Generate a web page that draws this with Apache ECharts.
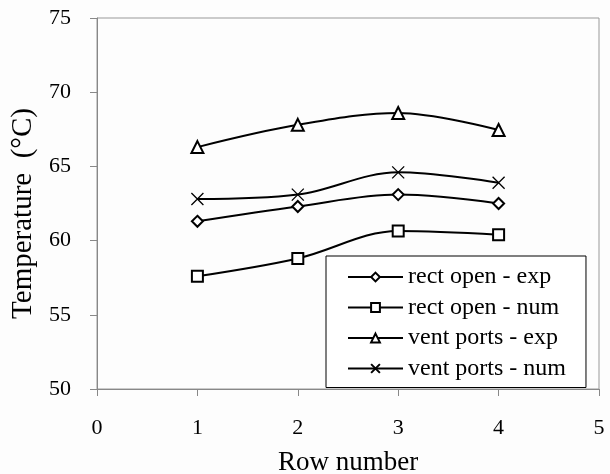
<!DOCTYPE html>
<html><head><meta charset="utf-8">
<script src="https://cdn.jsdelivr.net/npm/echarts@6/dist/echarts.min.js"></script>
<style>html,body{margin:0;padding:0;background:#fff}#c{width:610px;height:474px}</style>
</head><body><div id="c"></div>
<script>
const rows = [1, 2, 3, 4];
const rectOpenExp = [61.3, 62.3, 63.1, 62.5];
const rectOpenNum = [57.6, 58.8, 60.65, 60.4];
const ventPortsExp = [66.3, 67.8, 68.6, 67.45];
const ventPortsNum = [62.8, 63.1, 64.6, 63.9];
const seriesNames = ['rect open - exp', 'rect open - num', 'vent ports - exp', 'vent ports - num'];

const font = 'Liberation Serif';
const cross = 'path://M0,0L10,10M10,0L0,10';
function mk(name, vals, symbol, size) {
  return {
    name, type: 'line', smooth: 0.35,
    data: rows.map((r, i) => [r, vals[i]]),
    symbol, symbolSize: size,
    lineStyle: { color: '#000', width: 2 },
    itemStyle: { color: '#000', borderColor: '#000', borderWidth: 1.3 },
    emphasis: { disabled: true }
  };
}
const chart = echarts.init(document.getElementById('c'));
chart.setOption({
  animation: false,
  backgroundColor: '#fdfdfd',
  grid: { left: 97, right: 11, top: 18, bottom: 85, show: true, borderColor: '#999', borderWidth: 1, outerBoundsMode: 'none', containLabel: false },
  xAxis: {
    type: 'value', min: 0, max: 5, interval: 1,
    name: 'Row number', nameLocation: 'middle', nameGap: 60,
    nameTextStyle: { fontFamily: font, fontSize: 27, color: '#000' },
    axisLine: { lineStyle: { color: '#888' } },
    axisTick: { show: true, length: 7, lineStyle: { color: '#888' } },
    axisLabel: { fontFamily: font, fontSize: 22, color: '#000', margin: 28 },
    splitLine: { show: false }
  },
  yAxis: {
    type: 'value', min: 50, max: 75, interval: 5,
    name: 'Temperature  (°C)', nameLocation: 'middle', nameGap: 55,
    nameTextStyle: { fontFamily: font, fontSize: 29, color: '#000', padding: [0, 20, 0, 0] },
    axisLine: { show: true, lineStyle: { color: '#888' } },
    axisTick: { show: true, length: 7, lineStyle: { color: '#888' } },
    axisLabel: { fontFamily: font, fontSize: 22, color: '#000', margin: 26 },
    splitLine: { show: false }
  },
  legend: {
    orient: 'vertical', left: 326, top: 256,
    padding: [9, 20, 7, 21],
    itemWidth: 55, itemHeight: 11, itemGap: 6.5,
    borderColor: '#000', borderWidth: 1, backgroundColor: '#fff',
    textStyle: { fontFamily: font, fontSize: 24, lineHeight: 24, color: '#000' },
    data: seriesNames
  },
  series: [
    mk(seriesNames[0], rectOpenExp, 'emptyDiamond', 11),
    mk(seriesNames[1], rectOpenNum, 'emptyRect', 11),
    mk(seriesNames[2], ventPortsExp, 'emptyTriangle', 12),
    mk(seriesNames[3], ventPortsNum, cross, 12)
  ]
});
</script></body></html>
